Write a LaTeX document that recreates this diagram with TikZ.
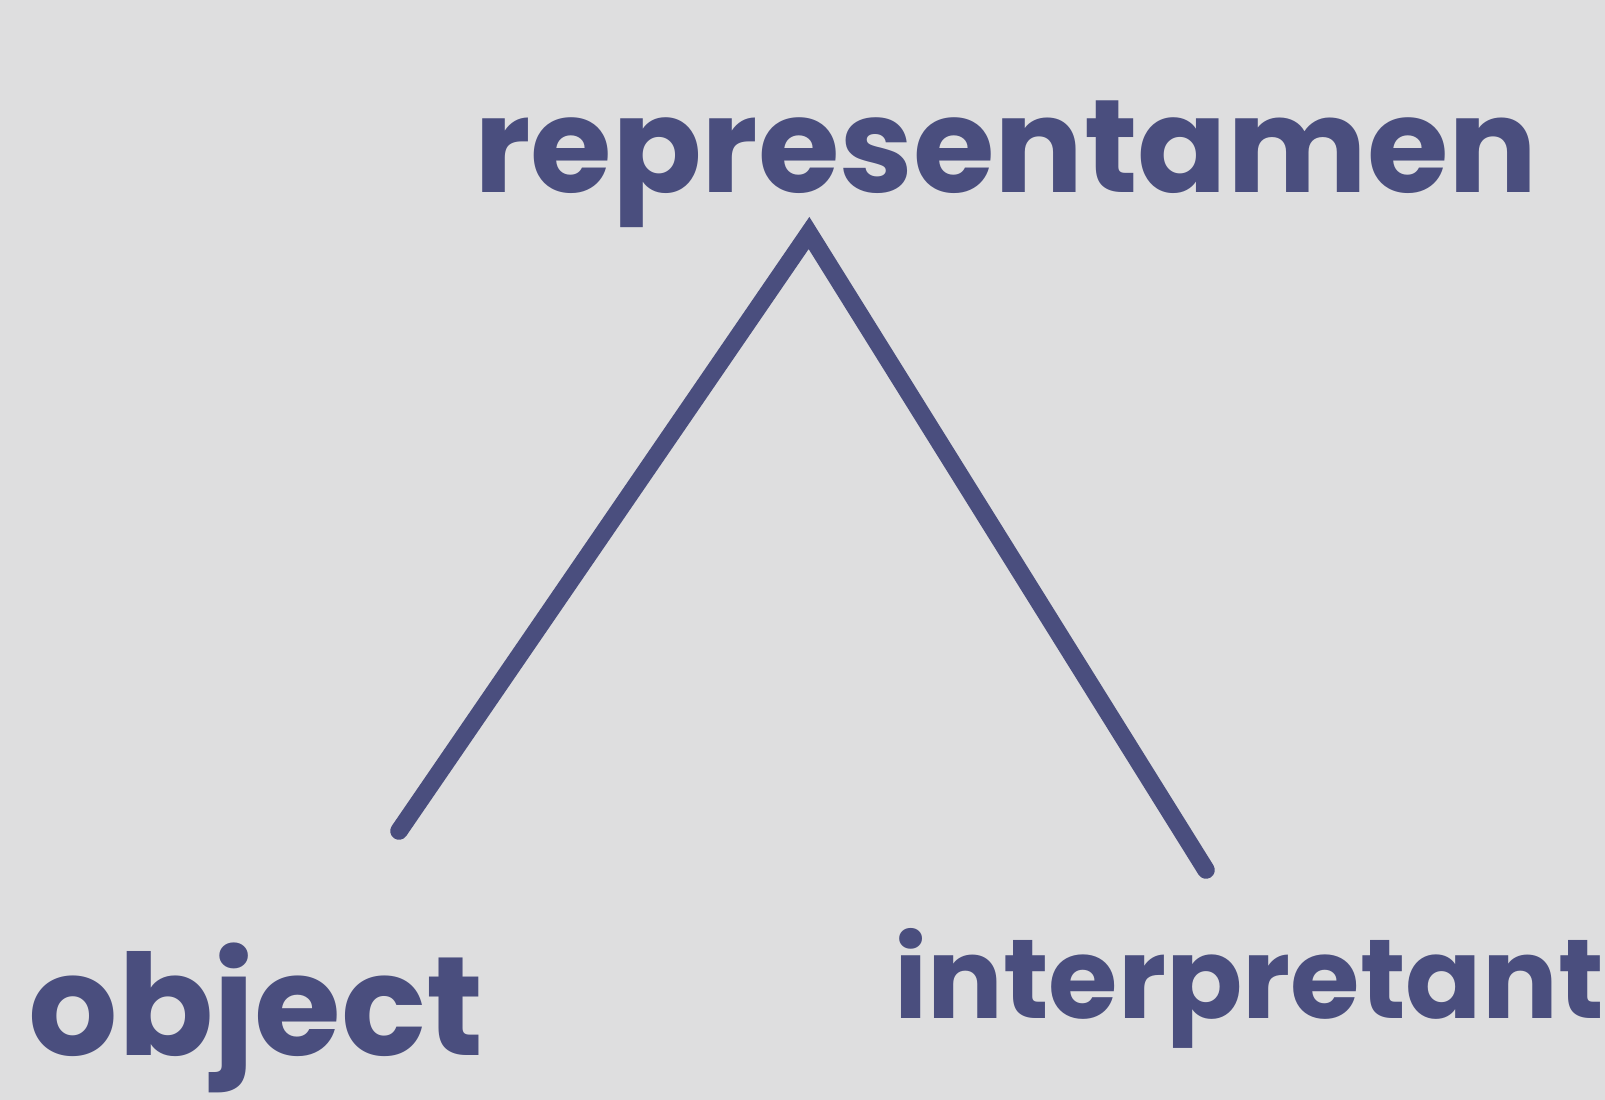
\documentclass[tikz,border=0pt]{standalone}
\usepackage{fontspec}
\setmainfont{Poppins}
\usepackage{tikz}
\usetikzlibrary{positioning}
\definecolor{paper}{HTML}{DEDEDF}
\definecolor{ink}{HTML}{4A4E7E}
\tikzset{
  word/.style={text=ink,inner sep=0pt,anchor=base},
  stroke/.style={draw=ink,line width=5pt,line cap=round,line join=miter}
}
\begin{document}
\begin{tikzpicture}
\fill[paper] (0,0) rectangle (16.05,-11);
\useasboundingbox (0,0) rectangle (16.05,-11);
\node[word,font=\fontsize{37.6}{44}\selectfont\bfseries] (rep) at (10.06,-1.93) {representamen};
\node[word,font=\fontsize{40}{48}\selectfont\bfseries] (obj) at (2.56,-10.55) {object};
\node[word,font=\fontsize{32}{38}\selectfont\bfseries] (int) at (12.49,-10.18) {interpretant};
\coordinate (apex) at (8.09,-2.33);
\coordinate (objtip) at (3.99,-8.31);
\coordinate (inttip) at (12.06,-8.70);
\draw[stroke] (objtip) -- (apex) -- (inttip);
\end{tikzpicture}
\end{document}
